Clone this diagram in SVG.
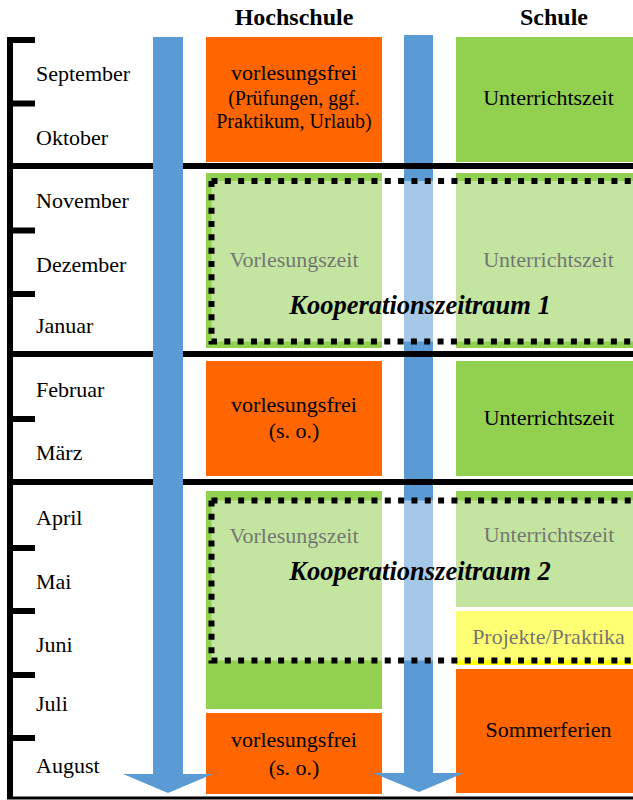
<svg xmlns="http://www.w3.org/2000/svg" width="633" height="800" viewBox="0 0 633 800">
  <style>
    text { font-family: "Liberation Serif", "Times New Roman", serif; fill: #000; }
    .hdr { font-size: 24px; font-weight: bold; text-anchor: middle; }
    .month { font-size: 22px; }
    .lbl { font-size: 22px; text-anchor: middle; }
    .sub { font-size: 20px; text-anchor: middle; }
    .koop { font-size: 26.5px; font-weight: bold; font-style: italic; text-anchor: middle; }
    .orange { fill: #FF6600; }
    .green { fill: #92D050; }
    .yellow { fill: #FFFF00; }
    .blue { fill: #5B9BD5; }
    .rule { stroke: #000; stroke-width: 6; fill: none; }
    .tick { stroke: #000; stroke-width: 6; fill: none; }
    .dotted { stroke: #000; stroke-width: 6; fill: none; stroke-dasharray: 6 7.33; }
    .veil { fill: #fff; fill-opacity: 0.45; }
  </style>
  <rect width="633" height="800" fill="#fff"/>

  <!-- Headers -->
  <g id="header-hochschule"><text class="hdr" x="294" y="25">Hochschule</text></g>
  <g id="header-schule"><text class="hdr" x="554" y="25">Schule</text></g>

  <!-- Hochschule column -->
  <g id="hs-sep-okt">
    <rect class="orange" x="206" y="37" width="176" height="125"/>
    <text class="lbl" x="294" y="80">vorlesungsfrei</text>
    <text class="sub" x="294" y="105">(Prüfungen, ggf.</text>
    <text class="sub" x="294" y="128">Praktikum, Urlaub)</text>
  </g>
  <g id="hs-nov-jan">
    <rect class="green" x="206" y="173" width="176" height="175"/>
    <text class="lbl" x="294" y="267">Vorlesungszeit</text>
  </g>
  <g id="hs-feb-mar">
    <rect class="orange" x="206" y="361" width="176" height="115"/>
    <text class="lbl" x="294" y="412">vorlesungsfrei</text>
    <text class="lbl" x="294" y="438">(s. o.)</text>
  </g>
  <g id="hs-apr-jul">
    <rect class="green" x="206" y="491" width="176" height="218"/>
    <text class="lbl" x="294" y="543">Vorlesungszeit</text>
  </g>
  <g id="hs-aug">
    <rect class="orange" x="206" y="713" width="176" height="81"/>
    <text class="lbl" x="294" y="747">vorlesungsfrei</text>
    <text class="lbl" x="294" y="775">(s. o.)</text>
  </g>

  <!-- Schule column -->
  <g id="s-sep-okt">
    <rect class="green" x="456" y="37" width="177" height="125"/>
    <text class="lbl" x="548.5" y="105">Unterrichtszeit</text>
  </g>
  <g id="s-nov-jan">
    <rect class="green" x="456" y="173" width="177" height="175"/>
    <text class="lbl" x="548.5" y="267">Unterrichtszeit</text>
  </g>
  <g id="s-feb-mar">
    <rect class="green" x="456" y="361" width="177" height="115"/>
    <text class="lbl" x="549" y="425">Unterrichtszeit</text>
  </g>
  <g id="s-apr-mai">
    <rect class="green" x="456" y="491" width="177" height="116"/>
    <text class="lbl" x="549" y="542">Unterrichtszeit</text>
  </g>
  <g id="s-jun">
    <rect class="yellow" x="456" y="611" width="177" height="54"/>
    <text class="lbl" x="548.5" y="644">Projekte/Praktika</text>
  </g>
  <g id="s-jul-aug">
    <rect class="orange" x="456" y="669" width="177" height="124"/>
    <text class="lbl" x="548.5" y="737">Sommerferien</text>
  </g>

  <!-- Connectors: arrows, timeline rules, cooperation frames -->
  <g id="connectors">
    <!-- Schule timeline arrow (beneath rules) -->
    <g id="arrow-schule">
      <rect class="blue" x="404" y="35" width="29" height="739"/>
      <polygon class="blue" points="373,773 464,773 419,792"/>
    </g>

    <!-- cooperation period veils -->
    <rect class="veil" x="211.5" y="181" width="430" height="160.5"/>
    <rect class="veil" x="211.5" y="500.5" width="430" height="160"/>

    <!-- timeline bracket -->
    <path class="tick" d="M35 40 H10 V797"/>
    <path class="tick" d="M10 103.5 H35 M10 230.5 H35 M10 294 H35 M10 419 H35 M10 548 H35 M10 611 H35 M10 675 H35 M10 738 H35"/>
    <path class="rule" d="M7 166 H633 M7 354 H633 M7 482 H633"/>
    <path d="M7 798 H633" stroke="#000" stroke-width="3" fill="none"/>

    <!-- Hochschule timeline arrow (above rules) -->
    <g id="arrow-hochschule">
      <rect class="blue" x="153" y="37" width="30" height="738"/>
      <polygon class="blue" points="123,774 213,774 168,793"/>
    </g>

    <!-- cooperation frames -->
    <path class="dotted" d="M211.5 181 H645 M211.5 181 V341.5 H645"/>
    <path class="dotted" d="M211.5 500.5 H645 M211.5 500.5 V660.5 H645"/>
  </g>

  <g id="koop-1"><text class="koop" x="420" y="314">Kooperationszeitraum 1</text></g>
  <g id="koop-2"><text class="koop" x="420" y="580">Kooperationszeitraum 2</text></g>

  <!-- Month labels -->
  <g id="months">
    <text class="month" x="36" y="81">September</text>
    <text class="month" x="36" y="145">Oktober</text>
    <text class="month" x="36" y="208">November</text>
    <text class="month" x="36" y="272">Dezember</text>
    <text class="month" x="36" y="333">Januar</text>
    <text class="month" x="36" y="397">Februar</text>
    <text class="month" x="36" y="460">März</text>
    <text class="month" x="36" y="525">April</text>
    <text class="month" x="36" y="589">Mai</text>
    <text class="month" x="36" y="652">Juni</text>
    <text class="month" x="36" y="711">Juli</text>
    <text class="month" x="36" y="773">August</text>
  </g>
</svg>
